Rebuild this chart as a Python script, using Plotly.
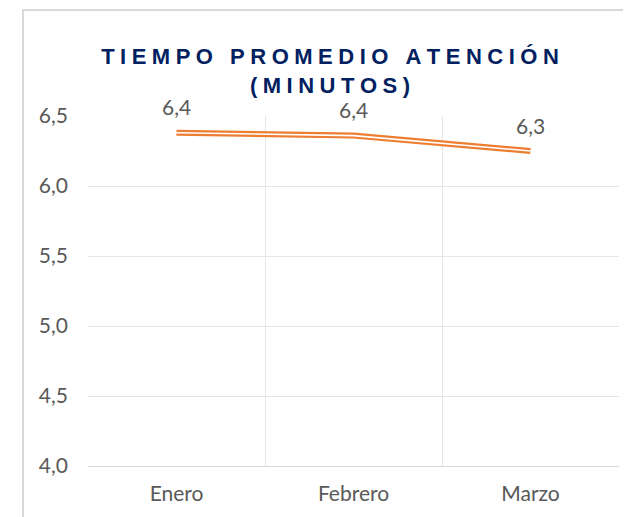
"""Tiempo promedio de atencion - line chart"""

from decimal import Decimal, ROUND_HALF_UP

import plotly.graph_objects as go

meses = ['Enero', 'Febrero', 'Marzo']
minutos = [6.38, 6.36, 6.25]
y_ticks = [4.0, 4.5, 5.0, 5.5, 6.0, 6.5]

TITLE_LINES = ['TIEMPO PROMEDIO ATENCIÓN', '(MINUTOS)']
SP = '\u2005'  # spacing between letters (Excel title uses expanded spacing)
title_text = '<br>'.join(SP.join(list(line)) for line in TITLE_LINES)

ORANGE = '#ED7D31'
GRAY_TXT = '#595959'
GRID = '#e6e6e6'
LABEL_FONT = 'Lato'


def excel_label(v):
    # Excel rounds half up, with decimal comma
    return str(Decimal(str(v)).quantize(Decimal('0.1'), ROUND_HALF_UP)).replace('.', ',')


fig = go.Figure()

# double (compound) line: thick orange with thin white core
fig.add_trace(go.Scatter(x=meses, y=minutos, mode='lines',
                         line=dict(color=ORANGE, width=6), hoverinfo='skip',
                         showlegend=False))
fig.add_trace(go.Scatter(x=meses, y=minutos, mode='lines',
                         line=dict(color='white', width=1.6),
                         showlegend=False))

# data labels
for m, v in zip(meses, minutos):
    fig.add_annotation(x=m, y=v, text=excel_label(v),
                       showarrow=False, yshift=26, borderpad=0,
                       font=dict(family=LABEL_FONT, size=21, color=GRAY_TXT))

# chart frame
fig.add_shape(type='rect', xref='paper', yref='paper',
              x0=-0.1224, x1=1.2, y0=-0.4, y1=1.303,
              line=dict(color='#d9d9d9', width=2), layer='below')

fig.update_layout(
    width=631, height=517,
    margin=dict(l=80, r=20, t=108, b=59),
    paper_bgcolor='white',
    plot_bgcolor='white',
    separators=',.',
    title=dict(text=title_text, x=322 / 631, xanchor='center',
               y=1 - 56 / 517, yanchor='top',
               font=dict(family='Liberation Sans', size=22, color='#002060',
                         weight='bold')),
    xaxis=dict(type='category', range=[-0.5, 2.5], tickson='boundaries',
               showgrid=True, gridcolor=GRID, gridwidth=1,
               showline=True, linecolor='#d9d9d9', linewidth=1,
               ticks='', ticklabelstandoff=9,
               tickfont=dict(family=LABEL_FONT, size=21, color=GRAY_TXT)),
    yaxis=dict(range=[4.0, 6.5], tickvals=y_ticks, tickformat='.1f',
               showgrid=True, gridcolor=GRID, gridwidth=1,
               zeroline=False, showline=False, ticks='',
               ticklabelstandoff=19,
               tickfont=dict(family=LABEL_FONT, size=21, color=GRAY_TXT)),
)

fig.write_html('out.html')
